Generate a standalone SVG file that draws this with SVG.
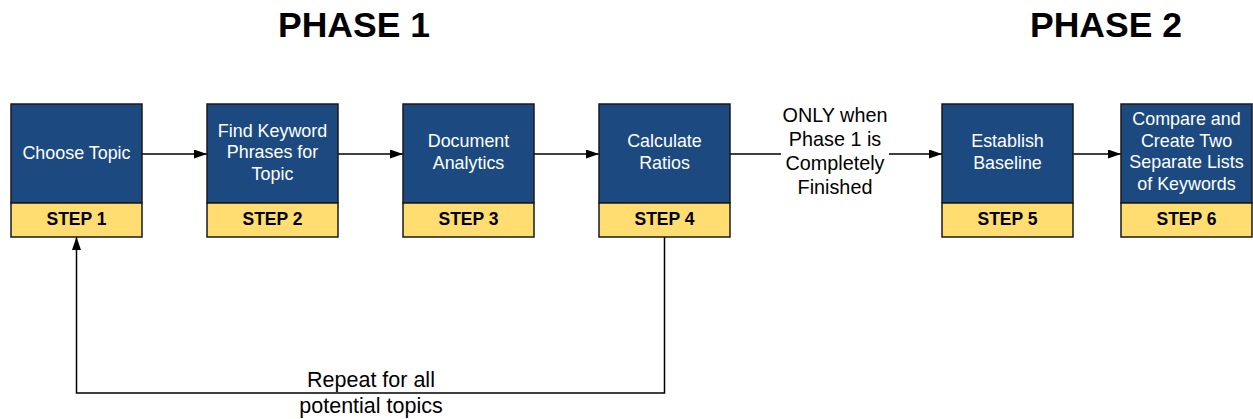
<svg xmlns="http://www.w3.org/2000/svg" width="1253" height="419" viewBox="0 0 1253 419">
<style>
  .blue{fill:#1c4a80;stroke:#1a1a1a;stroke-width:1.5}
  .yellow{fill:#ffdd71;stroke:#1a1a1a;stroke-width:1.5}
  .body{font-family:"Liberation Sans",Arial,sans-serif;font-size:17.9px;fill:#ffffff;text-anchor:middle}
  .step{font-family:"Liberation Sans",Arial,sans-serif;font-size:17.5px;font-weight:bold;fill:#000000;text-anchor:middle}
  .phase{font-family:"Liberation Sans",Arial,sans-serif;font-size:35.5px;font-weight:bold;fill:#000000;text-anchor:middle}
  .label{font-family:"Liberation Sans",Arial,sans-serif;font-size:19.8px;fill:#000000;text-anchor:middle}
  .loop{font-family:"Liberation Sans",Arial,sans-serif;font-size:21.5px;fill:#000000;text-anchor:middle}
  .conn{fill:none;stroke:#000000;stroke-width:1.5}
</style>
<defs>
  <marker id="arr" markerUnits="userSpaceOnUse" markerWidth="14" markerHeight="10" refX="13" refY="4.5" orient="auto">
    <path d="M0,0 L13,4.5 L0,9 z" fill="#000000"/>
  </marker>
</defs>
<rect width="1253" height="419" fill="#ffffff"/>
<text class="phase" x="354" y="37">PHASE 1</text>
<text class="phase" x="1106" y="37">PHASE 2</text>

<g id="connectors">
  <path class="conn" d="M142,154 H207" marker-end="url(#arr)"/>
  <path class="conn" d="M338,154 H403" marker-end="url(#arr)"/>
  <path class="conn" d="M534,154 H599" marker-end="url(#arr)"/>
  <path class="conn" d="M730,154 H781 M889,154 H942" marker-end="url(#arr)"/>
  <path class="conn" d="M1073,154 H1121" marker-end="url(#arr)"/>
  <path class="conn" d="M664.5,237 V393 H76.5 V237" marker-end="url(#arr)"/>
  <text class="label" x="835" y="121.5">ONLY when</text>
  <text class="label" x="835" y="145.5">Phase 1 is</text>
  <text class="label" x="835" y="169.5">Completely</text>
  <text class="label" x="835" y="193.5">Finished</text>
  <text class="loop" x="371" y="387">Repeat for all</text>
  <text class="loop" x="371" y="413">potential topics</text>
</g>

<g id="step1">
  <rect class="blue" x="11" y="104" width="131" height="99"/>
  <rect class="yellow" x="11" y="203" width="131" height="34"/>
  <text class="body" x="76.5" y="158.5">Choose Topic</text>
  <text class="step" x="76.5" y="224.5">STEP 1</text>
</g>
<g id="step2">
  <rect class="blue" x="207" y="104" width="131" height="99"/>
  <rect class="yellow" x="207" y="203" width="131" height="34"/>
  <text class="body" x="272.5" y="136.5">Find Keyword</text>
  <text class="body" x="272.5" y="158.3">Phrases for</text>
  <text class="body" x="272.5" y="180">Topic</text>
  <text class="step" x="272.5" y="224.5">STEP 2</text>
</g>
<g id="step3">
  <rect class="blue" x="403" y="104" width="131" height="99"/>
  <rect class="yellow" x="403" y="203" width="131" height="34"/>
  <text class="body" x="468.5" y="147">Document</text>
  <text class="body" x="468.5" y="168.5">Analytics</text>
  <text class="step" x="468.5" y="224.5">STEP 3</text>
</g>
<g id="step4">
  <rect class="blue" x="599" y="104" width="131" height="99"/>
  <rect class="yellow" x="599" y="203" width="131" height="34"/>
  <text class="body" x="664.5" y="147">Calculate</text>
  <text class="body" x="664.5" y="168.5">Ratios</text>
  <text class="step" x="664.5" y="224.5">STEP 4</text>
</g>
<g id="step5">
  <rect class="blue" x="942" y="104" width="131" height="99"/>
  <rect class="yellow" x="942" y="203" width="131" height="34"/>
  <text class="body" x="1007.5" y="147">Establish</text>
  <text class="body" x="1007.5" y="168.5">Baseline</text>
  <text class="step" x="1007.5" y="224.5">STEP 5</text>
</g>
<g id="step6">
  <rect class="blue" x="1121" y="104" width="131" height="99"/>
  <rect class="yellow" x="1121" y="203" width="131" height="34"/>
  <text class="body" x="1186.5" y="125">Compare and</text>
  <text class="body" x="1186.5" y="146.7">Create Two</text>
  <text class="body" x="1186.5" y="168.3">Separate Lists</text>
  <text class="body" x="1186.5" y="190">of Keywords</text>
  <text class="step" x="1186.5" y="224.5">STEP 6</text>
</g>
</svg>
